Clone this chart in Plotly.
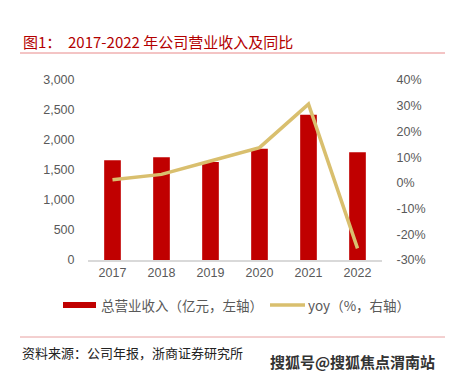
import plotly.graph_objects as go

years = ["2017", "2018", "2019", "2020", "2021", "2022"]
revenue = [1662, 1711, 1633, 1856, 2422, 1794]
yoy = [1.2, 3.3, 8.5, 13.7, 30.6, -25.5]

left_ticks = [0, 500, 1000, 1500, 2000, 2500, 3000]
right_ticks = [-30, -20, -10, 0, 10, 20, 30, 40]
right_labels = [f"{v}%" for v in right_ticks]

BAR = "#C00000"
LINE = "#D9BF6E"
GREY = "#595959"
FONT = "Liberation Sans, Arial, sans-serif"
CJK = "Noto Sans CJK SC, sans-serif"

fig = go.Figure()
fig.add_trace(go.Bar(x=years, y=revenue, marker_color=BAR, marker_line_width=0,
                     name="总营业收入（亿元，左轴）", yaxis="y"))
fig.add_trace(go.Scatter(x=years, y=yoy, mode="lines", line=dict(color=LINE, width=3.5),
                         name="yoy（%，右轴）", yaxis="y2"))

W, H = 452, 378
L, R, T, B = 88, 70, 80, 118
fig.update_layout(
    width=W, height=H,
    margin=dict(l=L, r=R, t=T, b=B),
    paper_bgcolor="white", plot_bgcolor="white",
    showlegend=False,
    bargap=0.66,
    font=dict(family=FONT, size=12, color=GREY),
    xaxis=dict(showgrid=False, showline=True, linecolor="#D9D9D9", linewidth=1.5,
               ticks="", tickfont=dict(size=12.5, color=GREY, family=FONT)),
    yaxis=dict(range=[0, 3000], tickvals=left_ticks, tickformat=",", showgrid=False,
               zeroline=False, showline=False, ticks="outside", ticklen=10, tickcolor="rgba(0,0,0,0)",
               tickfont=dict(size=12.5, color=GREY, family=FONT)),
    yaxis2=dict(range=[-30, 40], tickmode="array", tickvals=right_ticks, ticktext=right_labels,
                overlaying="y", side="right",
                showgrid=False, zeroline=False, showline=False, ticks="outside", ticklen=11,
                tickcolor="rgba(0,0,0,0)", tickfont=dict(size=12.5, color=GREY, family=FONT)),
)

pw, ph = W - L - R, H - T - B
def xp(x): return (x - L) / pw
def yp(y): return (H - B - y) / ph

shapes = [
    dict(type="line", xref="paper", yref="paper", x0=xp(20), x1=xp(445), y0=yp(53), y1=yp(53),
         line=dict(color="#E8898A", width=1)),
    dict(type="line", xref="paper", yref="paper", x0=xp(20), x1=xp(445), y0=yp(337), y1=yp(337),
         line=dict(color="#E8A0A0", width=1)),
    dict(type="rect", xref="paper", yref="paper", x0=xp(63), x1=xp(96), y0=yp(302), y1=yp(308),
         fillcolor=BAR, line=dict(width=0)),
    dict(type="line", xref="paper", yref="paper", x0=xp(270), x1=xp(305), y0=yp(305), y1=yp(305),
         line=dict(color=LINE, width=3.5)),
]
ann = [
    dict(text="图1：  2017-2022 年公司营业收入及同比", x=xp(21), y=yp(41), xanchor="left", yanchor="middle",
         font=dict(family=CJK, size=15, color="#B30000")),
    dict(text="总营业收入（亿元，左轴）", x=xp(99), y=yp(305), xanchor="left", yanchor="middle",
         font=dict(family=CJK, size=13.5, color=GREY)),
    dict(text="yoy（%，右轴）", x=xp(306), y=yp(305), xanchor="left", yanchor="middle",
         font=dict(family=CJK, size=13.5, color=GREY)),
    dict(text="资料来源：公司年报，浙商证券研究所", x=xp(20), y=yp(352), xanchor="left", yanchor="middle",
         font=dict(family=CJK, size=13, color="#222222")),
    dict(text="<b>搜狐号@搜狐焦点渭南站</b>", x=xp(268), y=yp(361), xanchor="left", yanchor="middle",
         font=dict(family=CJK, size=15, color="#333333")),
]
for a in ann:
    a.update(xref="paper", yref="paper", showarrow=False)
fig.update_layout(shapes=shapes, annotations=ann)

fig.write_html("out.html", config={"displayModeBar": False},
               post_script="document.body.style.margin='0';")
